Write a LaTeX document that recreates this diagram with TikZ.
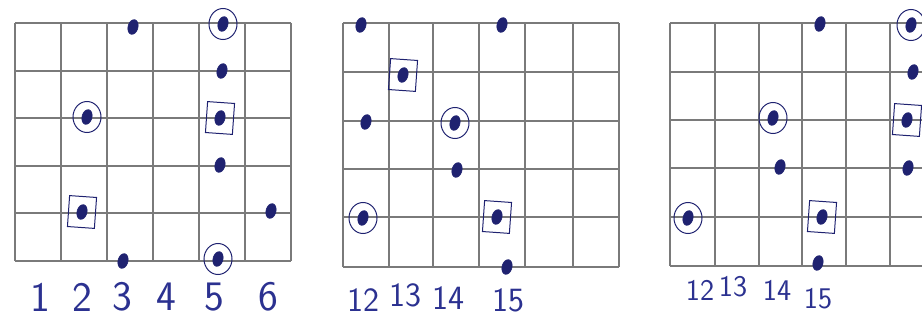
\documentclass[tikz,border=0pt]{standalone}
\usetikzlibrary{shapes.geometric}
\definecolor{ink}{HTML}{1F2270}
\definecolor{pen}{HTML}{2B3190}
\definecolor{fret}{HTML}{7A7A7A}
\tikzset{
  gridln/.style={draw=fret, line width=1.1pt},
  dot/.style={ellipse, fill=ink, draw=ink, line width=0.6pt, minimum width=10pt, minimum height=15pt, inner sep=0pt, rotate=-15},
  ring/.style={ellipse, draw=ink, line width=1pt, minimum width=28pt, minimum height=31pt, inner sep=0pt},
  sqbox/.style={draw=ink, line width=1pt, minimum width=27pt, minimum height=31pt, inner sep=0pt, rotate=-4},
  fretnum/.style={text=pen, font=\sffamily\fontsize{#1}{#1}\selectfont, inner sep=0pt},
}

\begin{document}
\begin{tikzpicture}[x=1pt,y=-1pt]
\useasboundingbox (0,0) rectangle (922,321);
\clip (0,0) rectangle (922,321);
% ================= grid 1, frets 1 to 6 =================
\foreach \x in {15,61,107,153,199,245,291}{\draw[gridln] (\x,23) -- (\x,261);}
\foreach \y in {23,71,118,166,213,261}{\draw[gridln] (15,\y) -- (291,\y);}
\foreach \n/\x/\y in {a/133/27, b/223/24, c/222/71, d/87/117, e/220/118, f/220/165, g/82/212, h/271/211, i/123/261, j/218/259}{
  \node[dot] (l\n) at (\x,\y) {};}
\foreach \n in {b,d,j}{\node[ring] at (l\n) {};}
\foreach \n in {e,g}{\node[sqbox] at (l\n) {};}
\foreach \t/\x in {1/40, 2/82, 3/122, 4/166, 5/214, 6/268}{
  \node[fretnum=42] (n\t) at (\x,297) {\t};}
% ================= grid 2, frets 12 to 15 =================
\foreach \x in {343,389,433,479,525,573,619}{\draw[gridln] (\x,23) -- (\x,267);}
\foreach \y in {23,72,121,169,217,267}{\draw[gridln] (343,\y) -- (619,\y);}
\foreach \n/\x/\y in {a/361/25, b/502/25, c/403/75, d/366/122, e/455/123, f/457/170, g/363/218, h/497/217, i/507/267}{
  \node[dot] (m\n) at (\x,\y) {};}
\foreach \n in {e,g}{\node[ring] at (m\n) {};}
\foreach \n in {c,h}{\node[sqbox] at (m\n) {};}
\foreach \t/\x/\y in {12/363/300, 13/405/295, 14/448/298, 15/508/300}{
  \node[fretnum=34] (o\t) at (\x,\y) {\t};}
% ================= grid 3, frets 12 to 15 =================
\foreach \x in {670,715,759,802,846,890,934}{\draw[gridln] (\x,23) -- (\x,266);}
\foreach \y in {23,72,120,168,217,266}{\draw[gridln] (670,\y) -- (934,\y);}
\foreach \n/\x/\y in {a/820/24, b/911/25, c/913/72, d/773/118, e/907/120, f/780/167, g/908/168, h/688/218, i/822/217, j/818/263}{
  \node[dot] (r\n) at (\x,\y) {};}
\foreach \n in {b,d,h}{\node[ring] at (r\n) {};}
\foreach \n in {e,i}{\node[sqbox] at (r\n) {};}
\foreach \t/\x/\y in {12/700/290, 13/733/287, 14/777/290, 15/818/299}{
  \node[fretnum=30] (s\t) at (\x,\y) {\t};}
\end{tikzpicture}
\end{document}
